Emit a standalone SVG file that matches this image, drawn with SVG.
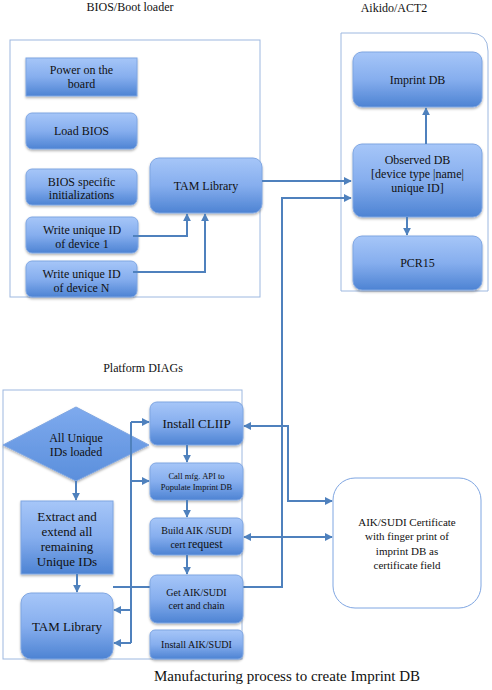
<svg xmlns="http://www.w3.org/2000/svg" width="492" height="690" viewBox="0 0 492 690">
<defs>
<linearGradient id="g" x1="0" y1="0" x2="0" y2="1">
<stop offset="0" stop-color="#a6c6f8"/>
<stop offset="0.5" stop-color="#86aeee"/>
<stop offset="1" stop-color="#4d83d3"/>
</linearGradient>
<linearGradient id="gd" x1="0" y1="0" x2="0" y2="1">
<stop offset="0" stop-color="#7eaaee"/>
<stop offset="1" stop-color="#5b8fdc"/>
</linearGradient>
<filter id="sh" x="-10%" y="-10%" width="120%" height="130%">
<feDropShadow dx="0" dy="1.5" stdDeviation="1" flood-color="#000" flood-opacity="0.3"/>
</filter>
<marker id="ar" viewBox="0 0 10 10" refX="9" refY="5" markerWidth="4" markerHeight="4" orient="auto-start-reverse">
<path d="M0,0 L10,5 L0,10 z" fill="#4f81bd"/>
</marker>
</defs>
<style>
.n{fill:url(#g);stroke:#7fa6e2;stroke-width:1;filter:url(#sh)}
.c{fill:none;stroke:#9db8e0;stroke-width:1}
.l{fill:none;stroke:#4f81bd;stroke-width:2}
.a{marker-end:url(#ar)}
.b{marker-start:url(#ar);marker-end:url(#ar)}
text{font-family:"Liberation Serif","Times New Roman",serif;fill:#111;text-anchor:middle}
.t12{font-size:12px}
.t13{font-size:13px}
.t10{font-size:10px}
.t8{font-size:8.5px}
.t11{font-size:11px}
</style>

<g id="titles">
<text class="t12" x="130" y="11">BIOS/Boot loader</text>
<text class="t12" x="394" y="12">Aikido/ACT2</text>
<text class="t12" x="143" y="372">Platform DIAGs</text>
<text x="287" y="681" style="font-size:15px">Manufacturing process to create Imprint DB</text>
</g>

<g id="containers">
<rect class="c" x="10" y="40" width="250" height="257"/>
<path class="c" d="M341,33 H470 Q488,33 488,51 V291 H341 Z"/>
<rect class="c" x="3" y="390" width="239" height="269"/>
</g>

<g id="connectors-back">
<path class="l a" d="M113,587 H282 V198 H351"/>
</g>

<g id="power"><rect class="n" x="26" y="58" width="111" height="38"/>
<text class="t12" x="81.5" y="74">Power on the</text><text class="t12" x="81.5" y="88">board</text></g>
<g id="loadbios"><rect class="n" x="26" y="113" width="111" height="36" rx="6"/>
<text class="t12" x="81.5" y="135">Load BIOS</text></g>
<g id="biosinit"><rect class="n" x="26" y="169" width="111" height="36" rx="6"/>
<text class="t12" x="81.5" y="186">BIOS specific</text><text class="t12" x="81.5" y="199">initializations</text></g>
<g id="write1"><rect class="n" x="26" y="217" width="112" height="36" rx="6"/>
<text class="t12" x="82" y="234">Write unique ID</text><text class="t12" x="82" y="248">of device  1</text></g>
<g id="writeN"><rect class="n" x="26" y="261" width="111" height="36" rx="6"/>
<text class="t12" x="81.5" y="278">Write unique ID</text><text class="t12" x="81.5" y="292">of device  N</text></g>
<g id="tam1"><rect class="n" x="150" y="158" width="112" height="55" rx="9"/>
<text class="t12" x="206" y="190">TAM Library</text></g>

<g id="imprint"><rect class="n" x="353" y="52" width="129" height="55" rx="9"/>
<text class="t12" x="417.5" y="84">Imprint DB</text></g>
<g id="observed"><rect class="n" x="353" y="144" width="129" height="73" rx="9"/>
<text class="t12" x="417.5" y="164">Observed DB</text>
<text class="t12" x="417.5" y="178">[device type |name|</text>
<text class="t12" x="417.5" y="192">unique ID]</text></g>
<g id="pcr15"><rect class="n" x="353" y="236" width="129" height="54" rx="9"/>
<text class="t12" x="417.5" y="267">PCR15</text></g>

<g id="diamond"><path class="n" d="M3,445 L76,407 L149,445 L76,481 Z" style="fill:url(#gd)"/>
<text class="t12" x="76" y="442">All Unique</text><text class="t12" x="76" y="456">IDs loaded</text></g>
<g id="extract"><rect class="n" x="21" y="501" width="92" height="73"/>
<text class="t13" x="67" y="521">Extract and</text>
<text class="t13" x="67" y="536">extend all</text>
<text class="t13" x="67" y="551">remaining</text>
<text class="t13" x="67" y="566">Unique IDs</text></g>
<g id="tam2"><rect class="n" x="21" y="593" width="92" height="66" rx="10"/>
<text class="t13" x="67" y="631">TAM Library</text></g>

<g id="cliip"><rect class="n" x="150" y="402" width="93" height="43" rx="7"/>
<text class="t13" x="196.5" y="428">Install CLIIP</text></g>
<g id="callmfg"><rect class="n" x="150" y="463" width="93" height="37" rx="6"/>
<text class="t8" x="196.5" y="479">Call mfg. API to</text>
<text class="t8" x="196.5" y="490">Populate Imprint DB</text></g>
<g id="build"><rect class="n" x="150" y="518" width="93" height="37" rx="6"/>
<text class="t10" x="196.5" y="534">Build AIK /SUDI</text>
<text class="t10" x="196.5" y="548">cert <tspan style="font-size:12px">request</tspan></text></g>
<g id="getaik"><rect class="n" x="150" y="575" width="93" height="48" rx="7"/>
<text class="t10" x="196.5" y="596">Get AIK/SUDI</text>
<text class="t10" x="196.5" y="609">cert and chain</text></g>
<g id="installaik"><rect class="n" x="150" y="630" width="93" height="29" rx="5"/>
<text class="t10" x="196.5" y="648">Install AIK/SUDI</text></g>

<g id="aikcert"><rect x="333" y="478" width="148" height="130" rx="22" fill="#fff" stroke="#7fa6e2" stroke-width="1"/>
<text class="t11" x="407" y="526">AIK/SUDI Certificate</text>
<text class="t11" x="407" y="540">with finger print of</text>
<text class="t11" x="407" y="555">imprint DB as</text>
<text class="t11" x="407" y="569">certificate field</text></g>

<g id="connectors">
<path class="l a" d="M133,236 H187 V214"/>
<path class="l a" d="M133,272 H205 V214"/>
<path class="l a" d="M262,181 H351"/>
<path class="l a" d="M426,144 V108"/>
<path class="l a" d="M407,217 V235"/>
<path class="l a" d="M187,445 V462"/>
<path class="l a" d="M187,500 V517"/>
<path class="l a" d="M187,555 V574"/>
<path class="l a" d="M76,481 V500"/>
<path class="l a" d="M77,574 V592"/>
<path class="l" d="M131,422 V643"/>
<path class="l a" d="M131,422 H149"/>
<path class="l a" d="M131,481 H149"/>
<path class="l a" d="M131,610 H114"/>
<path class="l a" d="M131,643 H114"/>
<path class="l b" d="M332,501 H288 V426 H244"/>
<path class="l b" d="M244,537 H332"/>
</g>
</svg>
